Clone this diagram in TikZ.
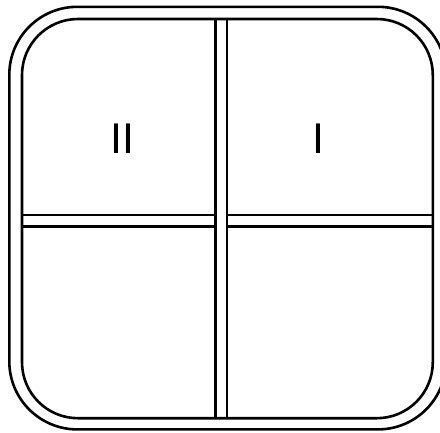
\documentclass[tikz,border=0pt]{standalone}
\usepackage{fontspec}
\setmainfont{Liberation Sans}
\begin{document}
\begin{tikzpicture}[x=1pt,y=-1pt,
  frame/.style={draw=black,line width=2.6pt},
  lbl/.style={font=\fontsize{43}{43}\selectfont,inner sep=0pt,anchor=center}]
\useasboundingbox (0,0) rectangle (440,432);
\clip (0,0) rectangle (440,432);
\fill[white] (0,0) rectangle (440,432);
% outer and inner rounded frames
\draw[frame,rounded corners=68pt] (9.3,6.8) rectangle (446,429.4);
\draw[frame,rounded corners=56pt] (22,19) rectangle (432.8,418.2);
% vertical double line
\draw[frame] (215.6,19) -- (215.6,418.2);
\draw[frame] (226.8,19) -- (226.8,418.2);
% horizontal double lines
\draw[frame] (22,215) -- (215.6,215);
\draw[frame] (22,226.3) -- (215.6,226.3);
\draw[frame] (226.8,215) -- (432.8,215);
\draw[frame] (226.8,226.3) -- (432.8,226.3);
% labels
\node[lbl] (two) at (122,138.5) {II};
\node[lbl] (one) at (318.3,138.5) {I};
\end{tikzpicture}
\end{document}
